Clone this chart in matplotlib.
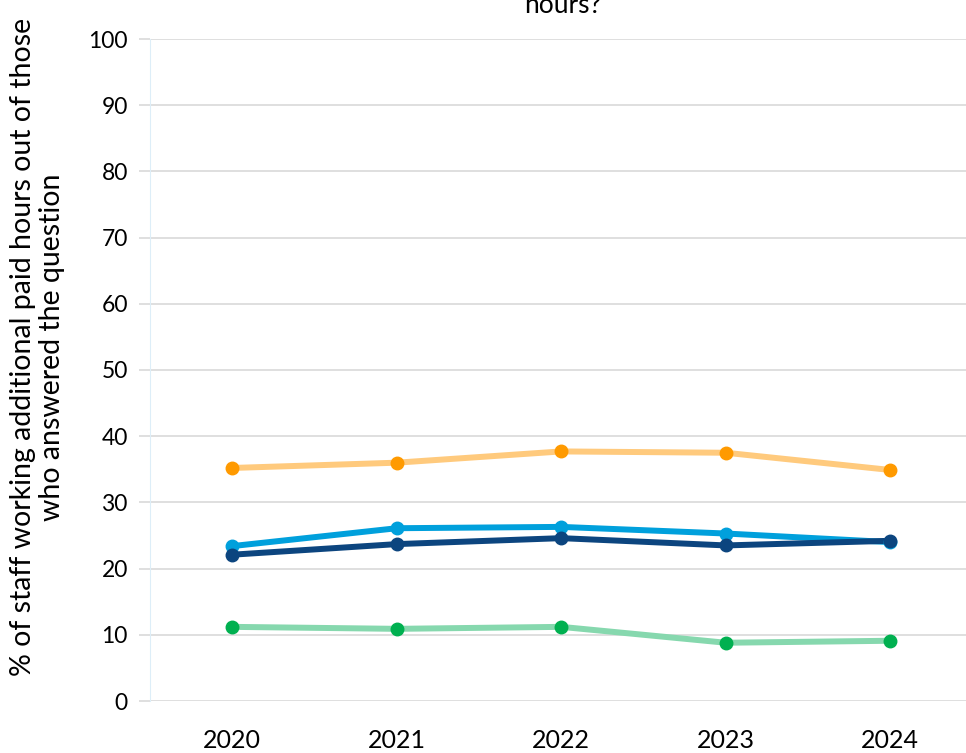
import numpy as np
import matplotlib.pyplot as plt

plt.rcParams['font.family'] = ['Lato', 'DejaVu Sans']

years = ['2020', '2021', '2022', '2023', '2024']
series_orange = [35.2, 36.0, 37.7, 37.5, 34.9]
series_lightblue = [23.4, 26.1, 26.3, 25.3, 24.0]
series_navy = [22.1, 23.7, 24.6, 23.5, 24.2]
series_green = [11.2, 10.9, 11.2, 8.8, 9.1]

fig = plt.figure(figsize=(9.66, 7.53), dpi=100)
ax = fig.add_axes([150 / 966, 52 / 753, 822.5 / 966, 662 / 753])

x = np.arange(len(years))
styles = [
    (series_orange, '#FFCA7D', '#FF9A00'),
    (series_lightblue, '#00A0DC', '#00A0DC'),
    (series_navy, '#0C457F', '#0C457F'),
    (series_green, '#86D8AE', '#00B050'),
]
for vals, lc, mc in styles:
    ax.plot(x, vals, color=lc, linewidth=4.3, solid_capstyle='round', zorder=3)
    ax.plot(x, vals, 'o', color=mc, markersize=9, zorder=4)

ax.set_xlim(-0.5, len(years) - 0.5)
ax.set_ylim(0, 100)
ax.set_yticks(np.arange(0, 101, 10))
ax.set_xticks(x)
ax.set_xticklabels(years, fontsize=18)
ax.tick_params(axis='y', labelsize=16.5, length=8, color='#d9d9d9', width=1.2, pad=8)
ax.tick_params(axis='x', length=0, pad=20)
ax.grid(axis='y', color='#d9d9d9', linewidth=1.2)
ax.set_axisbelow(True)
for s in ['top', 'right', 'bottom']:
    ax.spines[s].set_visible(False)
ax.spines['left'].set_color('#ddeef8')

ax.set_ylabel('% of staff working additional paid hours out of those\nwho answered the question',
              fontsize=20.5, linespacing=1.15)
ax.yaxis.set_label_coords(-0.103, 0.535)

fig.text(0.583, 740 / 753, 'hours?', ha='center', va='baseline', fontsize=19)

fig.savefig('out.png', dpi=100)
